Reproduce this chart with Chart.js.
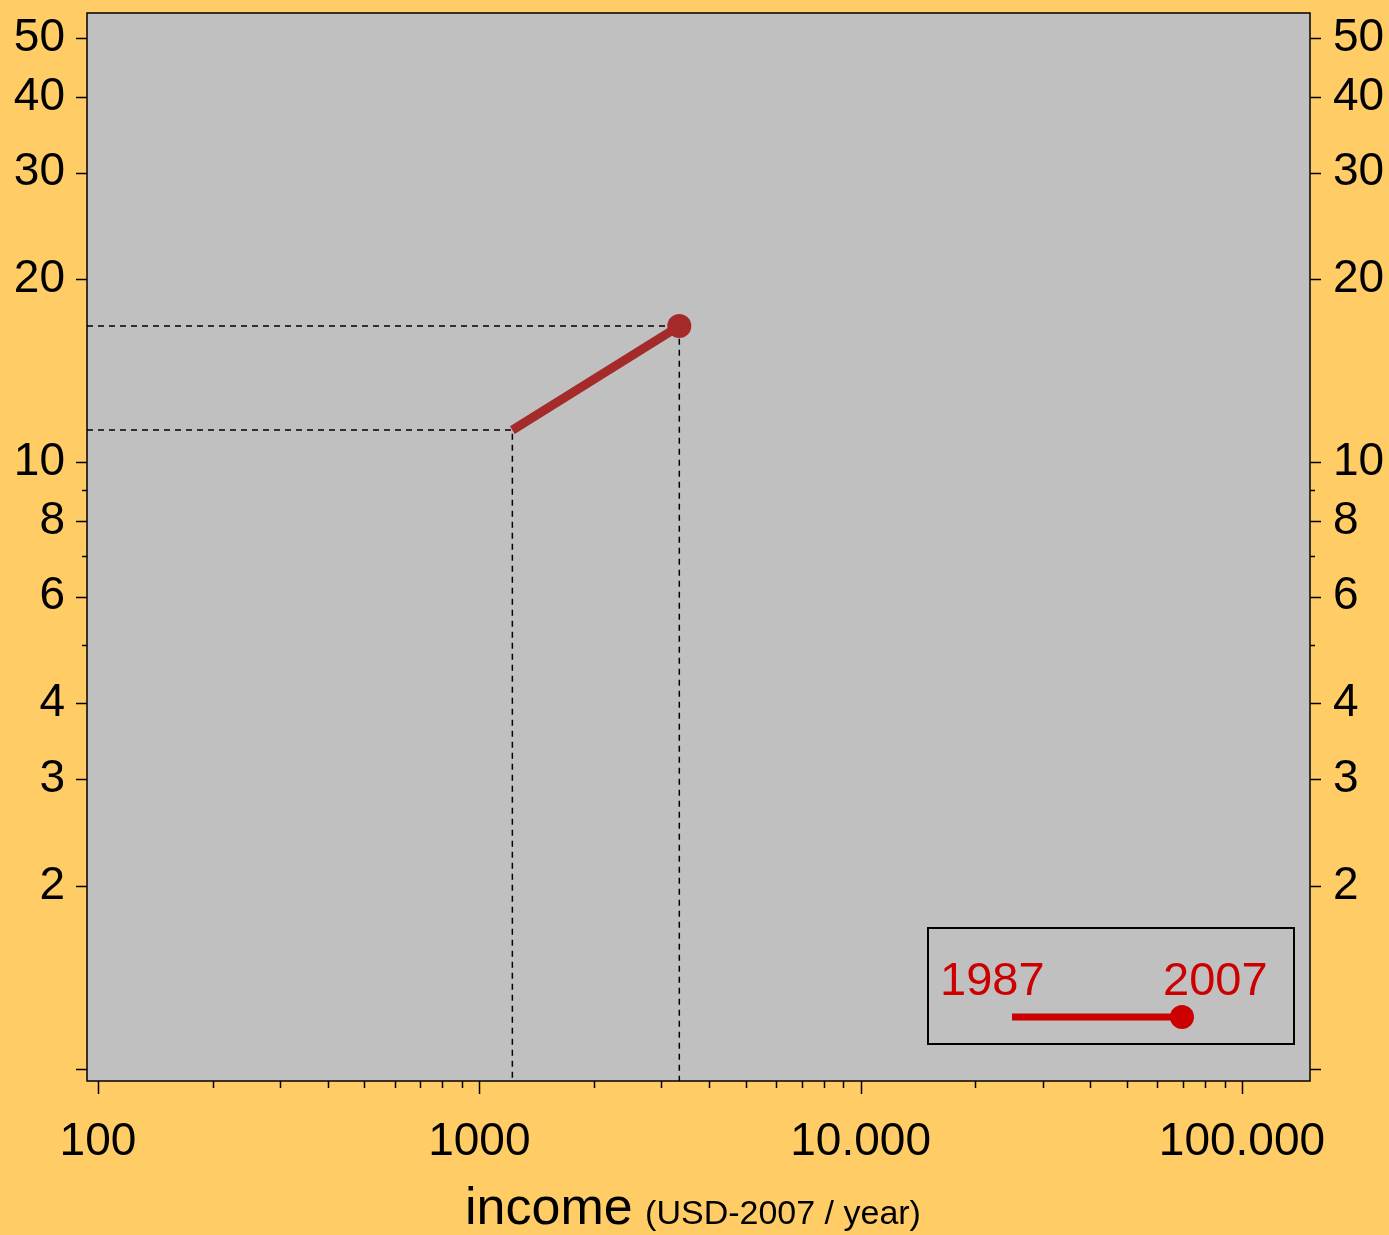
<!DOCTYPE html>
<html>
<head>
<meta charset="utf-8">
<script src="https://cdn.jsdelivr.net/npm/chart.js@4"></script>
<style>
  html, body { margin: 0; padding: 0; background: #FFCC66; }
  #wrap { width: 1389px; height: 1235px; }
</style>
</head>
<body>
<div id="wrap"><canvas id="myChart" width="1389" height="1235"></canvas></div>
<script>
const years = ['1987', '2007']
const income = [1221, 3346]
const valores = [11.29, 16.76]

const xTicks = [100, 200, 300, 400, 500, 600, 700, 800, 900,
    1000, 2000, 3000, 4000, 5000, 6000, 7000, 8000, 9000,
    10000, 20000, 30000, 40000, 50000, 60000, 70000, 80000, 90000, 100000]
const xLabels = { 100: '100', 1000: '1000', 10000: '10.000', 100000: '100.000' }
const yTicks = [1, 2, 3, 4, 5, 6, 7, 8, 9, 10, 20, 30, 40, 50]
const yLabels = [2, 3, 4, 6, 8, 10, 20, 30, 40, 50]
const yMajor = [1, 2, 3, 4, 6, 8, 10, 20, 30, 40, 50]

const xMin = 93.6, xMax = 150800
const yMin = 0.954, yMax = 55

const fuente = 'Liberation Sans, Arial, Helvetica, sans-serif'
const ctx = document.getElementById('myChart')

const puntos = income.map((x, i) => ({ x: x, y: valores[i] }))
const guias = puntos.map(p => ({
    data: [{ x: xMin, y: p.y }, { x: p.x, y: p.y }, { x: p.x, y: yMin }],
    borderColor: '#000',
    borderWidth: 1.5,
    borderDash: [6, 5],
    pointRadius: 0,
    order: 2
}))

const fondo = {
    id: 'fondo',
    beforeDraw(chart) {
        const c = chart.ctx, a = chart.chartArea
        c.save()
        c.fillStyle = '#FFCC66'
        c.fillRect(0, 0, chart.width, chart.height)
        c.fillStyle = '#C0C0C0'
        c.fillRect(a.left, a.top, a.right - a.left, a.bottom - a.top)
        c.restore()
    },
    afterDraw(chart) {
        const c = chart.ctx, a = chart.chartArea
        c.save()
        c.strokeStyle = '#000'
        c.lineWidth = 1.5
        c.strokeRect(a.left, a.top, a.right - a.left, a.bottom - a.top)
        // marcas de los ejes
        c.beginPath()
        const sx = chart.scales.x
        for (const v of xTicks) {
            const px = Math.round(sx.getPixelForValue(v)) + 0.5
            const largo = xLabels[v] ? 13 : 7
            c.moveTo(px, a.bottom)
            c.lineTo(px, a.bottom + largo)
        }
        const sy = chart.scales.y
        for (const v of yTicks) {
            const py = Math.round(sy.getPixelForValue(v)) + 0.5
            const largo = yMajor.includes(v) ? 11 : 5
            c.moveTo(a.left, py)
            c.lineTo(a.left - largo, py)
            c.moveTo(a.right, py)
            c.lineTo(a.right + largo, py)
        }
        c.stroke()
        // titulo eje x
        c.fillStyle = '#000'
        c.textBaseline = 'alphabetic'
        c.font = '52px ' + fuente
        const t1 = 'income '
        const w1 = c.measureText(t1).width
        const x0 = 465
        c.fillText(t1, x0, 1224)
        c.font = '34px ' + fuente
        c.fillText('(USD-2007 / year)', x0 + w1 - 2, 1224)
        // leyenda
        c.strokeStyle = '#000'
        c.lineWidth = 2
        c.strokeRect(928, 928, 366, 116)
        c.fillStyle = '#CC0000'
        c.font = '47px ' + fuente
        c.fillText(years[0], 940, 995)
        c.fillText(years[1], 1163, 995)
        c.strokeStyle = '#CC0000'
        c.lineWidth = 7
        c.beginPath()
        c.moveTo(1012, 1017)
        c.lineTo(1182, 1017)
        c.stroke()
        c.beginPath()
        c.arc(1182, 1017, 12, 0, Math.PI * 2)
        c.fill()
        c.restore()
    }
}

const ejeY = (pos, ancho, pad) => ({
    type: 'logarithmic',
    position: pos,
    min: yMin,
    max: yMax,
    grid: { display: false, drawTicks: false },
    border: { display: false },
    afterBuildTicks: s => { s.ticks = yTicks.map(v => ({ value: v })) },
    afterFit: s => { s.width = ancho; s.paddingTop = 0; s.paddingBottom = 0 },
    ticks: {
        autoSkip: false,
        padding: pad,
        color: '#000',
        font: { family: fuente, size: 46 },
        callback: v => yLabels.includes(v) ? String(v) : ''
    }
})

new Chart(ctx, {
    type: 'line',
    data: {
        datasets: [{
            data: puntos,
            borderColor: '#A52A2A',
            backgroundColor: '#A52A2A',
            borderWidth: 9,
            borderCapStyle: 'butt',
            pointRadius: [0, 12],
            pointHoverRadius: [0, 12],
            pointBorderWidth: 0,
            order: 1
        }, ...guias]
    },
    options: {
        responsive: false,
        animation: false,
        layout: { padding: { top: 13, left: 0, right: 0, bottom: 0 } },
        plugins: { legend: { display: false }, tooltip: { enabled: false } },
        scales: {
            x: {
                type: 'logarithmic',
                position: 'bottom',
                min: xMin,
                max: xMax,
                grid: { display: false, drawTicks: false },
                border: { display: false },
                afterBuildTicks: s => { s.ticks = xTicks.map(v => ({ value: v })) },
                afterFit: s => { s.height = 154; s.paddingLeft = 0; s.paddingRight = 0 },
                ticks: {
                    autoSkip: false,
                    maxRotation: 0,
                    padding: 34,
                    color: '#000',
                    font: { family: fuente, size: 46 },
                    callback: v => xLabels[v] || ''
                }
            },
            y: ejeY('left', 87, 22),
            y2: ejeY('right', 79, 23)
        }
    },
    plugins: [fondo]
})
</script>
</body>
</html>
